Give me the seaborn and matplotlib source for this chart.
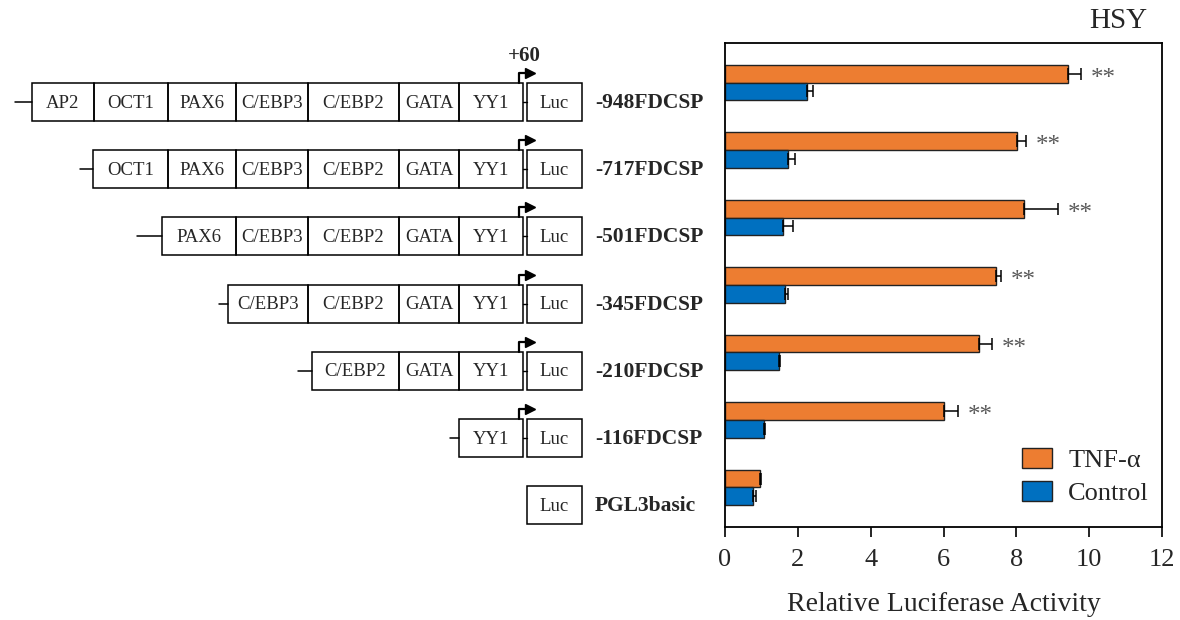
import numpy as np
import pandas as pd
import matplotlib.pyplot as plt
import seaborn as sns

sns.set_style('white')
plt.rcParams['font.family'] = ['Liberation Serif', 'DejaVu Serif']

# 데이터
constructs = ['-948FDCSP', '-717FDCSP', '-501FDCSP', '-345FDCSP',
              '-210FDCSP', '-116FDCSP', 'PGL3basic']
tnf_mean = [9.42, 8.02, 8.21, 7.45, 6.98, 6.02, 0.96]
tnf_err = [0.36, 0.25, 0.93, 0.13, 0.35, 0.38, 0.03]
ctrl_mean = [2.25, 1.73, 1.59, 1.65, 1.48, 1.07, 0.77]
ctrl_err = [0.17, 0.20, 0.27, 0.08, 0.03, 0.04, 0.08]
signif = ['**', '**', '**', '**', '**', '**', '']
treatments = ['TNF-α', 'Control']

# 프로모터 구성 요소
elements = [
    ['AP2', 'OCT1', 'PAX6', 'C/EBP3', 'C/EBP2', 'GATA', 'YY1', 'Luc'],
    ['OCT1', 'PAX6', 'C/EBP3', 'C/EBP2', 'GATA', 'YY1', 'Luc'],
    ['PAX6', 'C/EBP3', 'C/EBP2', 'GATA', 'YY1', 'Luc'],
    ['C/EBP3', 'C/EBP2', 'GATA', 'YY1', 'Luc'],
    ['C/EBP2', 'GATA', 'YY1', 'Luc'],
    ['YY1', 'Luc'],
    ['Luc'],
]

# 도식 레이아웃 (픽셀 단위)
box_span = {'AP2': (32, 94), 'OCT1': (94, 168), 'PAX6': (168, 236),
            'C/EBP3': (236, 308), 'C/EBP2': (308, 399), 'GATA': (399, 459),
            'YY1': (459, 523), 'Luc': (527, 582)}
first_start = [32, 93, 162, 228, 312, 459, 527]
lead_len = [17, 13, 25, 9, 14, 9, 0]
row_y0, row_step, box_h = 102, 67.2, 38

orange = '#ED7D31'
blue = '#0070C0'

fig = plt.figure(figsize=(11.8, 6.2), dpi=100)

# 왼쪽 도식
ax0 = fig.add_axes([0, 0, 1, 1])
ax0.set_xlim(0, 1180)
ax0.set_ylim(620, 0)
ax0.axis('off')

for i, (name, elems) in enumerate(zip(constructs, elements)):
    yc = row_y0 + row_step * i
    top = yc - box_h / 2
    for j, el in enumerate(elems):
        x0, x1 = box_span[el]
        if j == 0:
            x0 = first_start[i]
        ax0.add_patch(plt.Rectangle((x0, top), x1 - x0, box_h, fill=False,
                                    edgecolor='black', linewidth=1.1))
        ax0.text((x0 + x1) / 2, yc + 1, el, ha='center', va='center', fontsize=13.5)
    if lead_len[i] > 0:
        ax0.plot([first_start[i] - lead_len[i], first_start[i]], [yc, yc],
                 color='black', lw=1.1)
    if 'YY1' in elems:
        ax0.plot([523, 527], [yc, yc], color='black', lw=1)
        ax0.plot([519, 519, 528], [top, top - 10, top - 10], color='black', lw=1.6)
        ax0.plot([530], [top - 10], marker='>', color='black', markersize=7)
    ax0.text(595, yc + 1, name, ha='left', va='center', fontsize=15.5, fontweight='bold')

ax0.text(524, 56, '+60', ha='center', va='center', fontsize=15, fontweight='bold')

# 오른쪽 막대그래프
df = pd.DataFrame({
    'construct': constructs * 2,
    'treatment': [treatments[0]] * len(constructs) + [treatments[1]] * len(constructs),
    'activity': tnf_mean + ctrl_mean,
})

ax = fig.add_axes([725 / 1180, 1 - 527 / 620, 437 / 1180, 484 / 620])
sns.barplot(data=df, y='construct', x='activity', hue='treatment',
            hue_order=treatments, palette=[orange, blue], saturation=1, orient='h',
            width=0.52, errorbar=None, edgecolor='#222222', linewidth=1, ax=ax)

for cont, means, errs in zip(ax.containers, [tnf_mean, ctrl_mean], [tnf_err, ctrl_err]):
    ys = [p.get_y() + p.get_height() / 2 for p in cont.patches]
    ax.errorbar(means, ys, xerr=[np.zeros(len(errs)), errs], fmt='none',
                ecolor='black', elinewidth=1.1, capsize=4, capthick=1.1)
    if means is tnf_mean:
        for m, e, y, s in zip(means, errs, ys, signif):
            if s:
                ax.annotate(s, (m + e, y), xytext=(7, -8), textcoords='offset points',
                            ha='left', va='baseline', fontsize=18, color='#595959')

ax.set_xlim(0, 12)
ax.set_xticks(range(0, 13, 2))
ax.set_yticks([])
ax.set_ylabel('')
ax.set_xlabel('Relative Luciferase Activity', fontsize=20, labelpad=15)
ax.tick_params(axis='x', direction='out', length=7, width=1.2, labelsize=19,
               pad=9, bottom=True, color='black')
for sp in ax.spines.values():
    sp.set_visible(True)
    sp.set_color('black')
    sp.set_linewidth(1.3)

handles, labels = ax.get_legend_handles_labels()
ax.legend(handles, labels, loc='lower right', bbox_to_anchor=(0.97, 0.045),
          frameon=False, fontsize=19, handlelength=1.15, handleheight=0.75,
          handletextpad=0.6, labelspacing=0.35, borderaxespad=0, borderpad=0)

fig.text(1147 / 1180, 1 - 21 / 620, 'HSY', ha='right', va='center', fontsize=21)

plt.savefig('out.png', dpi=100)
